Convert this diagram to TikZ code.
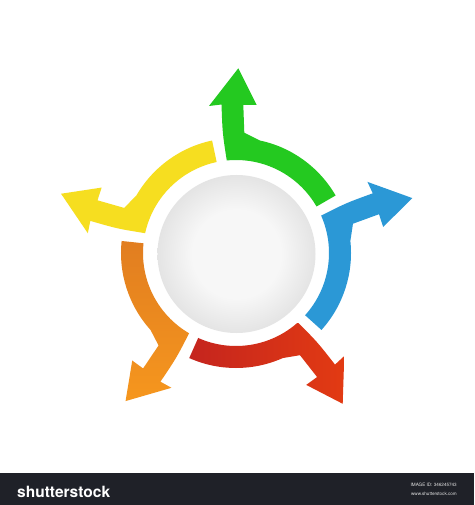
\documentclass[tikz,border=0pt]{standalone}
\usepackage{fontspec}
\newfontfamily\logofont{TeX Gyre Heros}
\definecolor{greenA}{RGB}{36,201,32}
\definecolor{blueA}{RGB}{43,152,214}
\definecolor{redA}{RGB}{196,36,30}
\definecolor{redB}{RGB}{228,60,18}
\definecolor{orgA}{RGB}{224,124,32}
\definecolor{orgB}{RGB}{247,152,30}
\definecolor{yelA}{RGB}{246,222,32}
\definecolor{discA}{RGB}{247,247,247}
\definecolor{discB}{RGB}{228,228,228}
\definecolor{barcol}{RGB}{31,33,40}
\pgfdeclareradialshading{discshade}{\pgfpoint{0bp}{0bp}}{color(0bp)=(discA); color(14bp)=(discA); color(25bp)=(discB); color(50bp)=(discB)}
% one arm of the cycle (green orientation); #1 = command, #2 = options
\newcommand\armshape[2]{#1[#2] (30:93) -- (30:115)
  arc[start angle=30,end angle=78,radius=115]
  .. controls (82:117) .. (8.3,120.3) -- (7.3,148) -- (20.7,148)
  -- (2.3,184.7) -- (-27,147) -- (-14.5,148.5)
  .. controls (-13.5,120) .. (95.7:93)
  arc[start angle=95.7,end angle=30,radius=93] -- cycle;}
\begin{document}
\begin{tikzpicture}[x=1pt,y=1pt]
\useasboundingbox (-236,-252) rectangle (238,253);
\fill[white] (-236,-252) rectangle (238,253);
% central disc
\shade[shading=discshade] (0.5,-1) circle[radius=79];
% arms
\armshape{\fill}{greenA}
\armshape{\fill}{blueA,rotate=-72}
\armshape{\fill}{yelA,rotate=72}
\begin{scope}
  \armshape{\clip}{rotate=-144}
  \shade[left color=redA,right color=redB] (-50,-70) rectangle (118,-160);
\end{scope}
\begin{scope}
  \armshape{\clip}{rotate=144}
  \shade[top color=orgA,bottom color=orgB] (-128,22) rectangle (-38,-158);
\end{scope}
% bottom bar
\fill[barcol] (-236,-252) rectangle (238,-220);
\node[anchor=base west,text=white,inner sep=0,font=\logofont\bfseries\fontsize{15.5}{16}\selectfont] (logo) at (-219,-244) {shutterstock};
\node[anchor=base east,text=white!80!gray,inner sep=0,font=\logofont\fontsize{4.6}{5}\selectfont] (imgid) at (221,-233.5) {IMAGE ID: 346245743};
\node[anchor=base east,text=white!80!gray,inner sep=0,font=\logofont\fontsize{4.6}{5}\selectfont] (www) at (221,-242) {www.shutterstock.com};
\end{tikzpicture}
\end{document}
